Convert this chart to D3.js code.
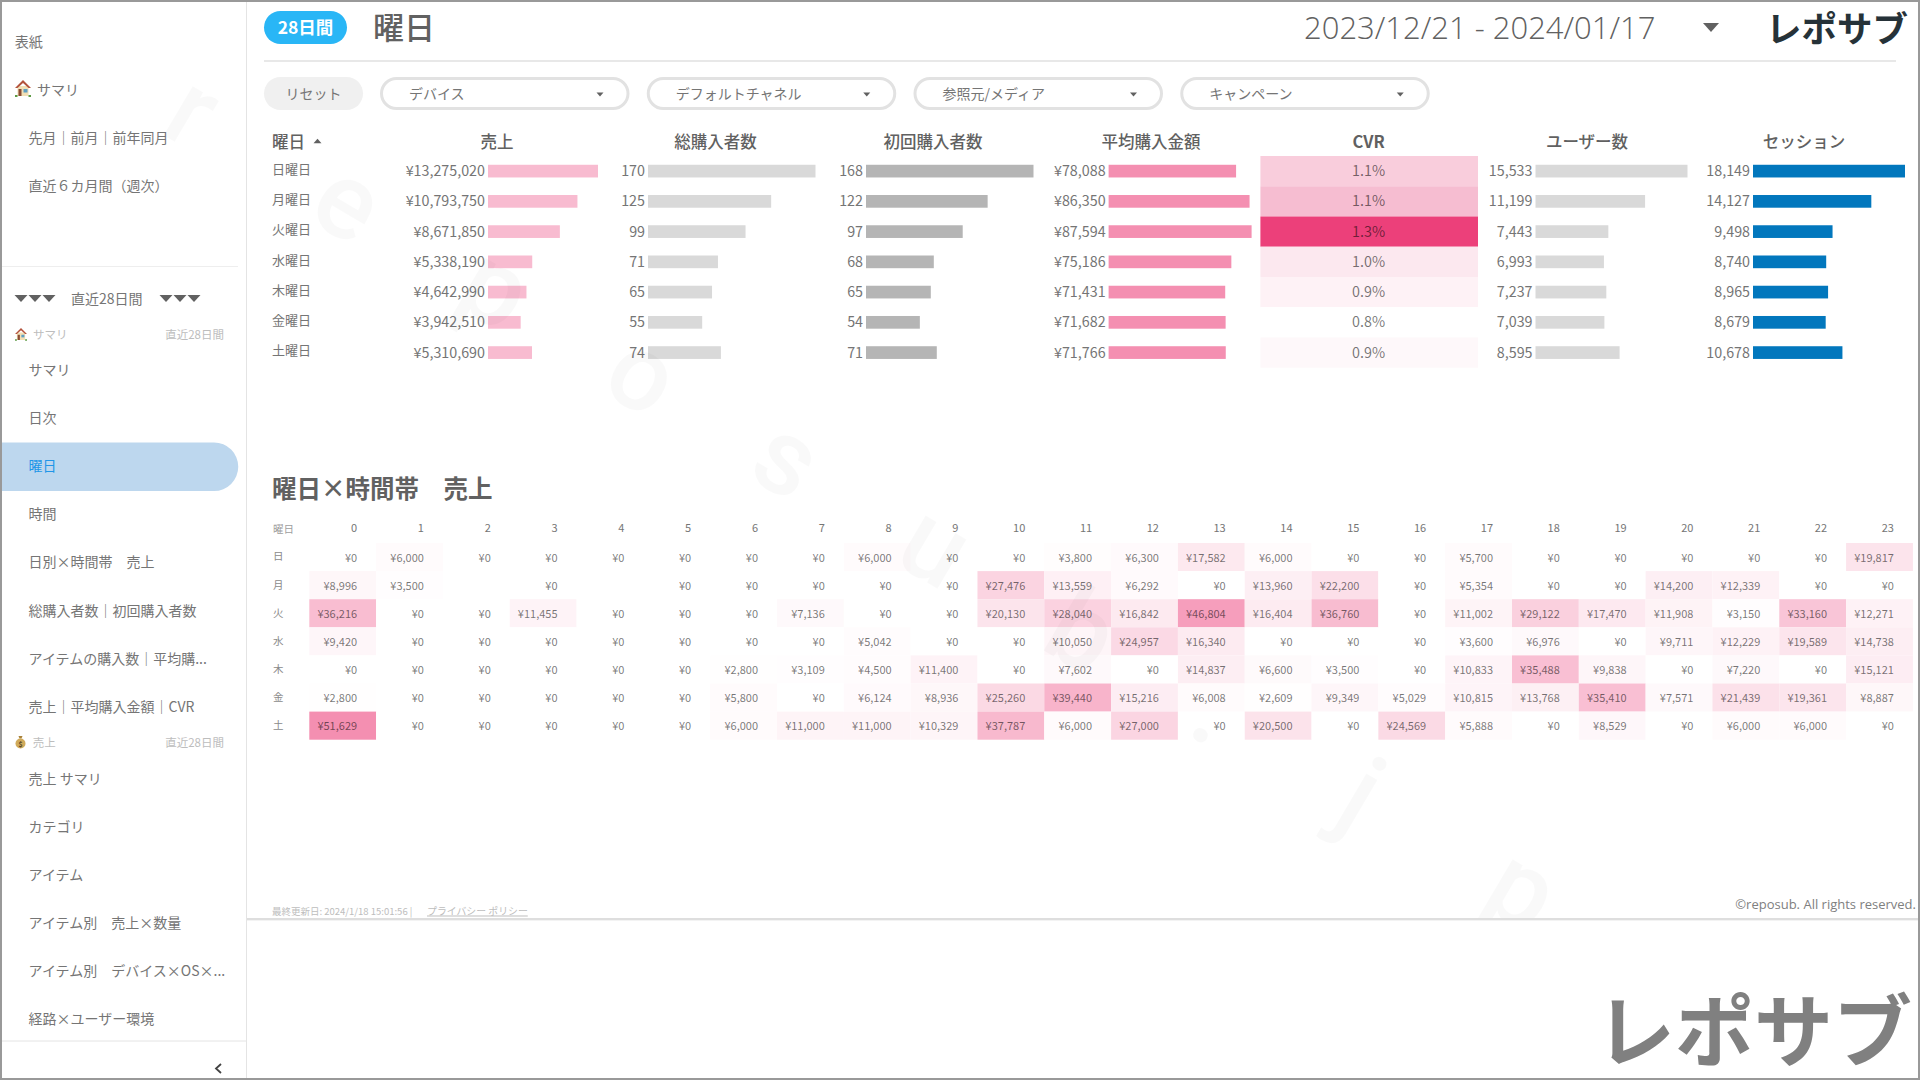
<!DOCTYPE html>
<html>
<head>
<meta charset="utf-8">
<script src="https://cdn.jsdelivr.net/npm/d3@7"></script>
<style>
html, body { margin: 0; padding: 0; background: #fff; }
svg { display: block; }
text { font-family: "Noto Sans CJK JP", "Noto Sans", sans-serif; }
</style>
</head>
<body>
<svg id="chart" width="1920" height="1080"></svg>
<script>
// table
const weekdays = ["日曜日", "月曜日", "火曜日", "水曜日", "木曜日", "金曜日", "土曜日"];
const sales = [13275020, 10793750, 8671850, 5338190, 4642990, 3942510, 5310690];
const buyers = [170, 125, 99, 71, 65, 55, 74];
const firstBuyers = [168, 122, 97, 68, 65, 54, 71];
const avgAmount = [78088, 86350, 87594, 75186, 71431, 71682, 71766];
const cvr = [1.094, 1.116, 1.330, 1.015, 0.898, 0.781, 0.861];
const users = [15533, 11199, 7443, 6993, 7237, 7039, 8595];
const sessions = [18149, 14127, 9498, 8740, 8965, 8679, 10678];

// heatmap
const days = ["日", "月", "火", "水", "木", "金", "土"];
const hours = d3.range(24);
const sunSales = [0, 6000, 0, 0, 0, 0, 0, 0, 6000, 0, 0, 3800, 6300, 17582, 6000, 0, 0, 5700, 0, 0, 0, 0, 0, 19817];
const monSales = [8996, 3500, null, 0, null, 0, 0, 0, 0, 0, 27476, 13559, 6292, 0, 13960, 22200, 0, 5354, 0, 0, 14200, 12339, 0, 0];
const tueSales = [36216, 0, 0, 11455, 0, 0, 0, 7136, 0, 0, 20130, 28040, 16842, 46804, 16404, 36760, 0, 11002, 29122, 17470, 11908, 3150, 33160, 12271];
const wedSales = [9420, 0, 0, 0, 0, 0, 0, 0, 5042, 0, 0, 10050, 24957, 16340, 0, 0, 0, 3600, 6976, 0, 9711, 12229, 19589, 14738];
const thuSales = [0, 0, 0, 0, 0, 0, 2800, 3109, 4500, 11400, 0, 7602, 0, 14837, 6600, 3500, 0, 10833, 35488, 9838, 0, 7220, 0, 15121];
const friSales = [2800, 0, 0, 0, 0, 0, 5800, 0, 6124, 8936, 25260, 39440, 15216, 6008, 2609, 9349, 5029, 10815, 13768, 35410, 7571, 21439, 19361, 8887];
const satSales = [51629, 0, 0, 0, 0, 0, 6000, 11000, 11000, 10329, 37787, 6000, 27000, 0, 20500, 0, 24569, 5888, 0, 8529, 0, 6000, 6000, 0];

// page text
const navTop = ["表紙", "サマリ", "先月｜前月｜前年同月", "直近６カ月間（週次）"];
const navSummary = ["サマリ", "日次", "曜日", "時間", "日別×時間帯　売上", "総購入者数｜初回購入者数", "アイテムの購入数｜平均購...", "売上｜平均購入金額｜CVR"];
const navSales = ["売上 サマリ", "カテゴリ", "アイテム", "アイテム別　売上×数量", "アイテム別　デバイス×OS×...", "経路×ユーザー環境"];
const filters = ["デバイス", "デフォルトチャネル", "参照元/メディア", "キャンペーン"];
const watermark = ["r", "e", "p", "o", "s", "u", "b", ".", "j", "p"];

const svg = d3.select("#chart");
const textColor = "#757575";
const softText = "rgba(0,0,0,0.54)";
const yen = d3.format(",");

function label(g, x, y, str, size, color, anchor, weight) {
    return g.append("text").attr("x", x).attr("y", y)
        .attr("dominant-baseline", "central")
        .attr("text-anchor", anchor || "start")
        .attr("font-size", size)
        .attr("font-weight", weight || 400)
        .attr("fill", color || textColor)
        .text(str);
}

function triangle(g, x, y, w, color, up) {
    const h = w * 0.55;
    const dir = up ? -1 : 1;
    g.append("path")
        .attr("d", d3.line()([[x - w / 2, y - dir * h / 2], [x + w / 2, y - dir * h / 2], [x, y + dir * h / 2]]) + "Z")
        .attr("fill", color);
}

// ---- frame and side bar
const side = svg.append("g");
side.append("path")
    .attr("d", "M2,442.5H214a24.25,24.25 0 0 1 0,48.5H2Z")
    .attr("fill", "#bdd7ee");
side.append("line").attr("x1", 246.5).attr("x2", 246.5).attr("y1", 2).attr("y2", 1078).attr("stroke", "#e4e4e4");
side.append("line").attr("x1", 2).attr("x2", 238).attr("y1", 266.5).attr("y2", 266.5).attr("stroke", "#eeeeee");
side.append("line").attr("x1", 2).attr("x2", 246).attr("y1", 1041).attr("y2", 1041).attr("stroke", "#e4e4e4");

// no emoji font here, so the two icons are small drawings
function house(g, x, y, s) {
    g.append("rect").attr("x", x + 2.5 * s).attr("y", y + 6 * s).attr("width", 11 * s).attr("height", 10 * s).attr("fill", "#f2dfb5");
    g.append("path").attr("d", d3.line()([[x, y + 8 * s], [x + 8 * s, y], [x + 16 * s, y + 8 * s], [x + 13.5 * s, y + 8 * s], [x + 8 * s, y + 3 * s], [x + 2.5 * s, y + 8 * s]]) + "Z").attr("fill", "#b3523c");
    g.append("rect").attr("x", x + 3.5 * s).attr("y", y + 9 * s).attr("width", 3 * s).attr("height", 7 * s).attr("fill", "#8a4b32");
    g.append("rect").attr("x", x + 8.5 * s).attr("y", y + 9 * s).attr("width", 4 * s).attr("height", 3.5 * s).attr("fill", "#5f9fc4");
    g.append("rect").attr("x", x).attr("y", y + 15 * s).attr("width", 2.5 * s).attr("height", 2 * s).attr("fill", "#5d9a45");
    g.append("rect").attr("x", x + 13.5 * s).attr("y", y + 15 * s).attr("width", 2.5 * s).attr("height", 2 * s).attr("fill", "#5d9a45");
}

function moneyBag(g, x, y) {
    g.append("path").attr("d", d3.line()([[x + 2.5, y], [x + 6.5, y], [x + 5.5, y + 2.5], [x + 3.5, y + 2.5]]) + "Z").attr("fill", "#a9823a");
    g.append("circle").attr("cx", x + 4.5).attr("cy", y + 7.5).attr("r", 5).attr("fill", "#d0aa5a");
    g.append("text").attr("x", x + 4.5).attr("y", y + 7.5).attr("dominant-baseline", "central").attr("text-anchor", "middle")
        .attr("font-size", 7).attr("font-weight", 700).attr("fill", "#5b4a2a").text("$");
}

navTop.forEach((d, i) => {
    const x = i < 2 ? 14.7 : 28.6;
    label(side, i == 1 ? 37 : x, 40.7 + i * 48, d, 14);
});
house(side, 15, 80, 1);

[15, 29, 43, 160, 174, 188].forEach(d => {
    triangle(side, d + 6, 298.5, 13, "#616161", false);
});
label(side, 71, 297.5, "直近28日間", 14);

house(side, 15, 328, 0.75);
label(side, 33, 333.5, "サマリ", 11.5, "#bdbdbd");
label(side, 224, 333.5, "直近28日間", 11.5, "#bdbdbd", "end");

navSummary.forEach((d, i) => {
    label(side, 28.6, 369 + i * 48.1, d, 14, i == 2 ? "#2196e8" : textColor);
});

moneyBag(side, 16, 736);
label(side, 32.7, 742, "売上", 11.5, "#bdbdbd");
label(side, 224, 742, "直近28日間", 11.5, "#bdbdbd", "end");

navSales.forEach((d, i) => {
    label(side, 28.6, 777.6 + i * 48.1, d, 14);
});
side.append("path").attr("d", "M221,1064l-5,4.5l5,4.5").attr("fill", "none").attr("stroke", "#424242").attr("stroke-width", 1.8);

// ---- page header
const head = svg.append("g");
head.append("rect").attr("x", 264).attr("y", 11).attr("width", 83).attr("height", 33).attr("rx", 16.5).attr("fill", "#29b6f6");
label(head, 305.5, 26.5, "28日間", 17.5, "#fff", "middle", 700);
label(head, 373, 25.5, "曜日", 31, "#616161", "start", 500);
label(head, 1304, 26.5, "2023/12/21 - 2024/01/17", 31, "#616161", "start", 300).style("font-family", "Open Sans");
triangle(head, 1711, 27.5, 16, "#616161", false);
label(head, 1766, 26.5, "レポサブ", 35.5, "#263238", "start", 700);
head.append("rect").attr("x", 264).attr("y", 60).attr("width", 1632).attr("height", 2).attr("fill", "#e8e8e8");

// ---- filters
const filterBar = svg.append("g");
filterBar.append("rect").attr("x", 264).attr("y", 77).attr("width", 99).attr("height", 33).attr("rx", 16.5).attr("fill", "#f0f0f0");
label(filterBar, 313.5, 92.5, "リセット", 14, textColor, "middle");
const filterX = d3.scaleBand().domain(filters).range([380, 1447]);
filters.forEach(d => {
    const x = filterX(d);
    filterBar.append("rect").attr("x", x + 1.5).attr("y", 78.5).attr("width", 246.5).attr("height", 30).attr("rx", 15)
        .attr("fill", "#fff").attr("stroke", "#e2e2e2").attr("stroke-width", 3);
    label(filterBar, x + 29, 92.5, d, 14);
    triangle(filterBar, x + 220, 94.5, 7, "#616161", false);
});

// ---- table with inline bars
const rowY = d3.scaleBand().domain(weekdays).range([156, 367.7]);
const barH = 12.7;
const table = svg.append("g");

function drawBars(values, title, fmt, x0, w, color, titleX) {
    const x = d3.scaleLinear().domain([0, d3.max(values)]).range([0, w]);
    const g = table.append("g");
    label(g, titleX, 140.5, title, 16.5, "#616161", "middle", 500);
    g.selectAll("rect").data(values).enter().append("rect")
        .attr("x", x0)
        .attr("y", (d, i) => rowY(weekdays[i]) + (rowY.bandwidth() - barH) / 2)
        .attr("width", d => x(d))
        .attr("height", barH)
        .attr("fill", color);
    g.selectAll("text.val").data(values).enter().append("text")
        .attr("class", "val")
        .attr("x", x0 - 3)
        .attr("y", (d, i) => rowY(weekdays[i]) + rowY.bandwidth() / 2 - 1.5)
        .attr("dominant-baseline", "central")
        .attr("text-anchor", "end")
        .attr("font-size", 14.3)
        .attr("fill", textColor)
        .text(fmt);
}

label(table, 272, 140.5, "曜日", 16.5, "#616161", "start", 500);
triangle(table, 317.5, 141, 8, "#616161", true);
const rowAxis = d3.axisLeft(rowY).tickSize(0).tickPadding(0);
const rowAxisG = table.append("g").attr("transform", "translate(272,-1.5)").call(rowAxis);
rowAxisG.select(".domain").remove();
rowAxisG.selectAll("text").attr("text-anchor", "start").attr("font-size", 13).attr("fill", textColor)
    .style("font-family", '"Noto Sans CJK JP"');

drawBars(sales, "売上", d => "¥" + yen(d), 488, 110, "#f8bbd0", 497);
drawBars(buyers, "総購入者数", yen, 648, 167.5, "#d9d9d9", 715.5);
drawBars(firstBuyers, "初回購入者数", yen, 866, 167.5, "#b5b5b5", 933);
drawBars(avgAmount, "平均購入金額", d => "¥" + yen(d), 1108.6, 143, "#f48fb1", 1151);
drawBars(users, "ユーザー数", yen, 1535.5, 152, "#d9d9d9", 1587);
drawBars(sessions, "セッション", yen, 1753, 152, "#0277bd", 1804);

// cvr cells, colour read off the picture so the scale is not a straight ramp
const cvrColor = d3.scaleLinear()
    .domain([0.781, 0.861, 0.898, 1.015, 1.094, 1.116, 1.330])
    .range(["#ffffff", "#fef8fa", "#fef2f6", "#fce8ef", "#f9cddc", "#f6bdd1", "#ec407a"]);
label(table, 1368.6, 140.5, "CVR", 16.5, "#616161", "middle", 700);
table.selectAll("rect.cvr").data(cvr).enter().append("rect")
    .attr("class", "cvr")
    .attr("x", 1260.4)
    .attr("y", (d, i) => rowY(weekdays[i]))
    .attr("width", 217.6)
    .attr("height", rowY.bandwidth())
    .attr("fill", d => cvrColor(d));
table.selectAll("text.cvrv").data(cvr).enter().append("text")
    .attr("class", "cvrv")
    .attr("x", 1368.6)
    .attr("y", (d, i) => rowY(weekdays[i]) + rowY.bandwidth() / 2 - 1.5)
    .attr("dominant-baseline", "central")
    .attr("text-anchor", "middle")
    .attr("font-size", 14.3)
    .attr("fill", softText)
    .text(d => d.toFixed(1) + "%");

// ---- heatmap
const heat = svg.append("g");
label(heat, 272, 487, "曜日×時間帯　売上", 24.5, "#616161", "start", 700);

const heatRows = [sunSales, monSales, tueSales, wedSales, thuSales, friSales, satSales];
const heatX = d3.scaleBand().domain(hours).range([309.3, 1912.9]);
const heatY = d3.scaleBand().domain(days).range([543, 739.7]);
const heatColor = d3.scalePow().exponent(1.5).domain([0, d3.max(heatRows.flat())]).range(["#ffffff", "#f48fb1"]);
const textInset = 19;

const topAxis = heat.append("g").attr("transform", "translate(0,532)")
    .call(d3.axisTop(heatX).tickSize(0).tickPadding(0));
topAxis.select(".domain").remove();
topAxis.selectAll("text")
    .attr("text-anchor", "end")
    .attr("dx", heatX.bandwidth() / 2 - textInset)
    .attr("font-size", 11)
    .attr("fill", textColor)
    .style("font-family", '"Noto Sans CJK JP"');

label(heat, 273, 528, "曜日", 10.5, "#9e9e9e");
const leftAxis = heat.append("g").attr("transform", "translate(273,0)")
    .call(d3.axisLeft(heatY).tickSize(0).tickPadding(0));
leftAxis.select(".domain").remove();
leftAxis.selectAll("text")
    .attr("text-anchor", "start")
    .attr("font-size", 10.5)
    .attr("fill", "#8a8a8a")
    .style("font-family", '"Noto Sans CJK JP"');

heatRows.forEach((row, r) => {
    const cells = heat.append("g").attr("transform", "translate(0," + heatY(days[r]) + ")");
    const filled = row.map((v, h) => ({ v: v, h: h })).filter(d => d.v !== null);
    cells.selectAll("rect").data(filled).enter().append("rect")
        .attr("x", d => heatX(d.h))
        .attr("width", heatX.bandwidth())
        .attr("height", heatY.bandwidth())
        .attr("fill", d => heatColor(d.v));
    cells.selectAll("text").data(filled).enter().append("text")
        .attr("x", d => heatX(d.h) + heatX.bandwidth() - textInset)
        .attr("y", heatY.bandwidth() / 2 - 0.5)
        .attr("dominant-baseline", "central")
        .attr("text-anchor", "end")
        .attr("font-size", 11)
        .attr("fill", softText)
        .text(d => "¥" + yen(d.v));
});

// ---- watermark, one letter at a time along the diagonal, it stops at the footer line
svg.append("clipPath").attr("id", "pageClip").append("rect")
    .attr("x", 0).attr("y", 0).attr("width", 1920).attr("height", 918);
const markX = d3.scalePoint().domain(d3.range(watermark.length)).range([158, 1478]);
const markY = d3.scalePoint().domain(d3.range(watermark.length)).range([132, 905]);
svg.append("g").attr("clip-path", "url(#pageClip)")
    .selectAll("text").data(watermark).enter().append("text")
    .attr("transform", (d, i) => "translate(" + markX(i) + "," + markY(i) + ") rotate(30.5)")
    .attr("font-size", 108)
    .attr("font-weight", 500)
    .attr("fill", "rgba(0,0,0,0.025)")
    .style("font-family", "Roboto")
    .text(d => d);

// ---- footer
const foot = svg.append("g");
label(foot, 272, 910.5, "最終更新日: 2024/1/18 15:01:56 | ", 9.5, "#bdbdbd");
label(foot, 427, 910.5, "プライバシー ポリシー", 9.9, "#bdbdbd").attr("text-decoration", "underline");
label(foot, 1916, 903.5, "©reposub. All rights reserved.", 13, "#808080", "end").style("font-family", "Open Sans");
foot.append("rect").attr("x", 247).attr("y", 918).attr("width", 1671).attr("height", 2).attr("fill", "#dedede");
foot.append("rect").attr("x", 247).attr("y", 920).attr("width", 1671).attr("height", 1).attr("fill", "#f3f3f3");
label(foot, 1596, 1026, "レポサブ", 79, "#808080", "start", 700);

// ---- outer frame
svg.append("rect").attr("x", 1).attr("y", 1).attr("width", 1918).attr("height", 1078)
    .attr("fill", "none").attr("stroke", "#999999").attr("stroke-width", 2);
</script>
</body>
</html>
